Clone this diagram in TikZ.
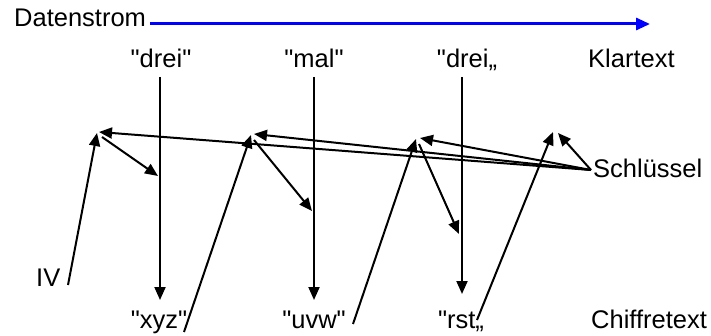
\documentclass[tikz,border=0pt]{standalone}
\usepackage{fontspec}
\setmainfont{Liberation Sans}[Ligatures=TeXOff]
\usetikzlibrary{arrows.meta}
\begin{document}
\begin{tikzpicture}[x=1pt,y=-1pt,
  lbl/.style={inner sep=0pt,font=\fontsize{25.5}{30}\selectfont},
  flow/.style={line width=2pt,-{Triangle[length=13pt,width=11pt]}},
  stream/.style={blue,line width=3pt,-{Triangle[length=14pt,width=12pt]}}]
\useasboundingbox (0,0) rectangle (711,336);

% header: data stream direction
\node[lbl,anchor=base west] (ds) at (14,27) {Datenstrom};
\coordinate (dsend) at (650,24);
\draw[stream] ([xshift=4pt]ds.east |- dsend) -- (dsend);

% plaintext row
\node[lbl,anchor=base] (p1) at (161,68) {"drei"};
\node[lbl,anchor=base] (p2) at (314,68) {"mal"};
\node[lbl,anchor=base] (p3) at (467,68) {"drei„};
\node[lbl,anchor=base west] (pk) at (588,68) {Klartext};

% ciphertext row
\node[lbl,anchor=base] (c1) at (159,328) {"xyz"};
\node[lbl,anchor=base] (c2) at (314,328) {"uvw"};
\node[lbl,anchor=base] (c3) at (461,328) {"rst„};
\node[lbl,anchor=base west] (ck) at (591,328) {Chiffretext};

% side labels
\node[lbl,anchor=base west] (iv) at (36,287) {IV};
\node[lbl,anchor=base west] (key) at (593,178) {Schlüssel};

% combination points
\coordinate (k1) at (97,133);
\coordinate (k2) at (251,135);
\coordinate (k3) at (416,139);
\coordinate (k4) at (553,132);
% key arrow targets next to them
\coordinate (t1) at (99,132);
\coordinate (t2) at (254,134);
\coordinate (t3) at (420,138);
\coordinate (t4) at (558,133);
% key source
\coordinate (ks) at (591,170);

% feed-in line starts
\coordinate (ivs) at (68,285);
\coordinate (c1s) at (184,332);
\coordinate (c2s) at (353,324);
\coordinate (c3s) at (477,320);

% encryption columns
\coordinate (v1a) at (160,77);  \coordinate (v1b) at (160,300);
\coordinate (v2a) at (314,77);  \coordinate (v2b) at (314,300);
\coordinate (v3a) at (462,77);  \coordinate (v3b) at (462,294);
\coordinate (m1) at (158,176);
\coordinate (m2) at (312,211);
\coordinate (m3) at (459,234);

\draw[flow] (v1a) -- (v1b);
\draw[flow] (v2a) -- (v2b);
\draw[flow] (v3a) -- (v3b);

% chaining: IV / previous ciphertext into the next block
\draw[flow] (ivs) -- (k1);
\draw[flow] (c1s) -- (k2);
\draw[flow] (c2s) -- (k3);
\draw[flow] (c3s) -- (k4);

% key into each block
\draw[flow] (ks) -- (t1);
\draw[flow] (ks) -- (t2);
\draw[flow] (ks) -- (t3);
\draw[flow] (ks) -- (t4);

% combined value onto the columns
\draw[flow] ([shift={(5,4)}]k1) -- (m1);
\draw[flow] ([shift={(3,5)}]k2) -- (m2);
\draw[flow] ([shift={(3,5)}]k3) -- (m3);
\end{tikzpicture}
\end{document}
